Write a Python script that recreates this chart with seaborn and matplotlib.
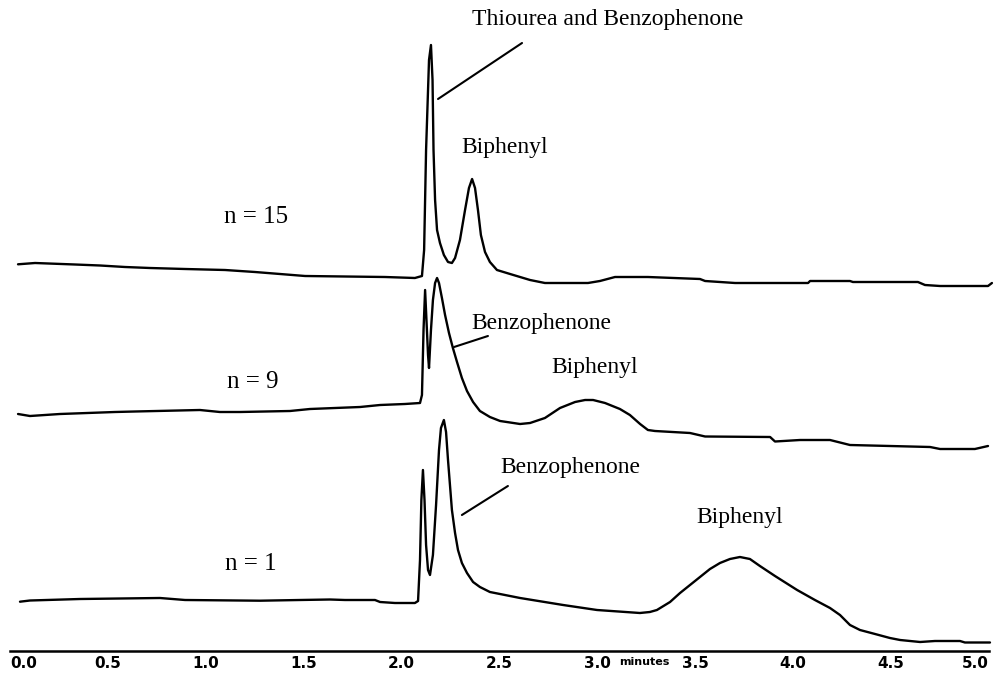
import matplotlib
matplotlib.use("Agg")
import matplotlib.pyplot as plt
import seaborn as sns
import pandas as pd

# ---- data (time in minutes, detector signal in arbitrary units) ----
t_n15 = [0.041, 0.128, 0.332, 0.460, 0.587, 0.715, 0.894, 1.098, 1.251, 1.507, 1.915, 2.068,
         2.104, 2.115, 2.125, 2.140, 2.150, 2.158, 2.163, 2.171, 2.181, 2.196, 2.216, 2.237,
         2.257, 2.273, 2.298, 2.324, 2.344, 2.360, 2.375, 2.390, 2.405, 2.426, 2.451, 2.487,
         2.554, 2.605, 2.656, 2.732, 2.952, 3.013, 3.090, 3.258, 3.524, 3.550, 3.703, 4.076,
         4.086, 4.290, 4.305, 4.637, 4.673, 4.750, 4.995, 5.015]
s_n15 = [386.7, 388, 386.5, 385.5, 384, 383, 382, 381, 379, 375, 374, 373,
         375, 401, 501, 591, 606, 571, 501, 451, 421, 408, 396, 389,
         388, 393, 411, 441, 463, 472, 463, 441, 416, 399, 389, 381,
         377, 374, 371, 368, 368, 370, 374, 374, 372, 370, 368, 368,
         370, 370, 369, 369, 366, 365, 365, 368]

t_n9 = [0.041, 0.102, 0.255, 0.536, 0.638, 0.970, 1.072, 1.175, 1.430, 1.532, 1.788, 1.890,
        2.017, 2.094, 2.104, 2.112, 2.120, 2.127, 2.135, 2.140, 2.150, 2.160, 2.171, 2.181,
        2.191, 2.206, 2.222, 2.242, 2.262, 2.283, 2.308, 2.334, 2.365, 2.400, 2.451, 2.503,
        2.605, 2.656, 2.732, 2.809, 2.886, 2.937, 2.978, 3.039, 3.115, 3.166, 3.218, 3.258,
        3.294, 3.473, 3.550, 3.882, 3.907, 4.035, 4.188, 4.290, 4.699, 4.750, 4.928, 4.995]
s_n9 = [237, 235, 237, 239, 239.5, 241, 239, 239, 240, 242, 244, 246,
        247, 248, 256, 321, 361, 331, 296, 283, 321, 351, 368, 373,
        368, 353, 336, 318, 303, 289, 273, 260, 249, 240, 234, 230,
        227, 228, 233, 243, 249, 251, 251, 248, 242, 236, 227, 221,
        220, 218, 214.5, 214, 209.5, 211, 211, 206, 204, 202, 202, 205]

t_n1 = [0.051, 0.102, 0.358, 0.766, 0.894, 1.277, 1.481, 1.634, 1.711, 1.864, 1.890, 1.966,
        2.068, 2.084, 2.094, 2.101, 2.109, 2.117, 2.125, 2.135, 2.145, 2.160, 2.176, 2.191,
        2.201, 2.216, 2.227, 2.237, 2.247, 2.257, 2.273, 2.288, 2.308, 2.334, 2.365, 2.400,
        2.451, 2.605, 2.825, 2.998, 3.217, 3.268, 3.304, 3.371, 3.422, 3.473, 3.524, 3.575,
        3.626, 3.677, 3.728, 3.779, 3.830, 3.907, 4.020, 4.111, 4.188, 4.239, 4.290, 4.341,
        4.418, 4.494, 4.546, 4.648, 4.724, 4.852, 4.877, 5.005]
s_n1 = [49.3, 50.5, 52, 53, 51, 50.3, 51, 51.5, 51, 51, 49, 48,
        48, 50, 91, 151, 181, 151, 106, 81, 76, 96, 146, 201,
        223, 231, 219, 191, 166, 141, 118, 101, 88, 78, 69, 64,
        59, 53, 46, 41, 38, 39, 41, 49, 58, 66, 74, 82,
        88, 92, 94, 92, 85, 75, 61, 51, 43, 36, 26, 21,
        17, 13, 11, 9, 10, 10, 8.5, 8.5]

tick_values = [0.0, 0.5, 1.0, 1.5, 2.0, 2.5, 3.0, 3.5, 4.0, 4.5, 5.0]
tick_labels = ["0.0", "0.5", "1.0", "1.5", "2.0", "2.5", "3.0", "3.5", "4.0", "4.5", "5.0"]

traces = pd.concat([
    pd.DataFrame({"time": t_n15, "signal": s_n15, "run": "n = 15"}),
    pd.DataFrame({"time": t_n9, "signal": s_n9, "run": "n = 9"}),
    pd.DataFrame({"time": t_n1, "signal": s_n1, "run": "n = 1"}),
])

sns.set_theme(style="white")
plt.rcParams["font.family"] = ["Liberation Serif", "DejaVu Serif"]

W, H = 1002, 673
fig = plt.figure(figsize=(W / 100, H / 100), dpi=100)
ax = fig.add_axes([10 / W, 22 / H, 979 / W, 651 / H])

for run in ["n = 15", "n = 9", "n = 1"]:
    d = traces[traces["run"] == run]
    sns.lineplot(data=d, x="time", y="signal", ax=ax, sort=False, estimator=None,
                 color="black", linewidth=1.7, legend=False)
for line in ax.lines:
    line.set_clip_on(False)
    line.set_solid_joinstyle("round")

ax.set_xlim(0, 5)
ax.set_ylim(0, 651)
ax.set_xlabel("")
ax.set_ylabel("")
ax.set_yticks([])
for sp in ["left", "right", "top"]:
    ax.spines[sp].set_visible(False)
ax.spines["bottom"].set_linewidth(1.8)
ax.spines["bottom"].set_color("black")
ax.set_xticks(tick_values)
ax.set_xticklabels(tick_labels)
ax.tick_params(axis="x", direction="out", length=3, width=1.2, color="black", pad=0.5)
sans = ["DejaVu Sans"]
labels = ax.get_xticklabels()
for lab in labels:
    lab.set_family(sans)
    lab.set_fontweight("bold")
    lab.set_fontsize(11)
    lab.set_color("black")
labels[0].set_horizontalalignment("left")
labels[-1].set_horizontalalignment("right")

ax.text(3.11, -0.017, "minutes", transform=ax.get_xaxis_transform(), ha="left", va="center",
        family=sans, fontweight="bold", fontsize=8, color="black")

fs = 17
txt = dict(ha="center", va="center", fontsize=fs, color="black")
ax.text(3.054, 631, "Thiourea and Benzophenone", **txt)
ax.plot([2.186, 2.615], [552, 608], color="black", lw=1.5)
ax.text(2.528, 503, "Biphenyl", **txt)
ax.text(1.256, 434, "n = 15", ha="center", va="center", fontsize=18, color="black")

ax.text(2.712, 328, "Benzophenone", **txt)
ax.plot([2.268, 2.441], [304, 315], color="black", lw=1.5)
ax.text(2.988, 284, "Biphenyl", **txt)
ax.text(1.241, 269, "n = 9", ha="center", va="center", fontsize=18, color="black")

ax.text(2.860, 184, "Benzophenone", **txt)
ax.plot([2.308, 2.543], [136, 165], color="black", lw=1.5)
ax.text(3.728, 134, "Biphenyl", **txt)
ax.text(1.231, 87, "n = 1", ha="center", va="center", fontsize=18, color="black")

fig.savefig("out.png", dpi=100, facecolor="white")
